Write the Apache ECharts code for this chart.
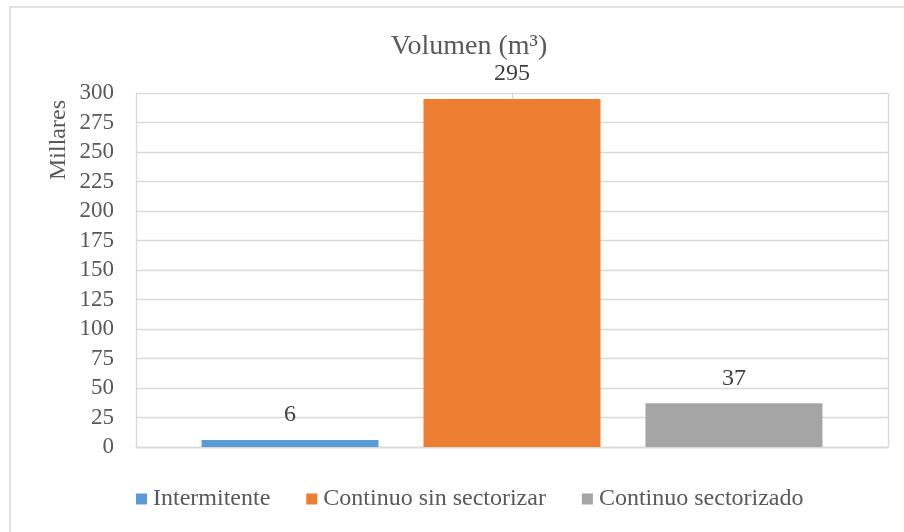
<!DOCTYPE html>
<html>
<head>
<meta charset="utf-8">
<script src="https://cdn.jsdelivr.net/npm/echarts@6/dist/echarts.min.js"></script>
<style>
  html, body { margin: 0; padding: 0; background: #ffffff; }
  #chart { width: 904px; height: 532px; }
</style>
</head>
<body>
<div id="chart"></div>
<script>
// Volume per supply scheme, thousands of m³
const seriesNames = ['Intermitente', 'Continuo sin sectorizar', 'Continuo sectorizado'];
const seriesValues = [6, 295, 37];
const seriesColors = ['#5B9BD5', '#ED7D31', '#A5A5A5'];
const categories = ['Volumen'];
const yMin = 0;
const yMax = 300;
const yStep = 25;

const FONT = 'Liberation Serif';
const TEXT = '#595959';

const chart = echarts.init(document.getElementById('chart'), null, { renderer: 'canvas' });

const series = seriesNames.map((name, i) => {
  const s = {
    name: name,
    type: 'bar',
    data: [seriesValues[i]],
    barWidth: 177,
    barGap: '25.4%',
    itemStyle: { color: seriesColors[i] },
    label: {
      show: true,
      position: 'top',
      distance: 13,
      color: '#404040',
      fontFamily: FONT,
      fontSize: 24
    }
  };
  if (i === 1) {
    // vertical gridline at the category centre, visible above the middle bar
    s.markLine = {
      silent: true,
      symbol: 'none',
      label: { show: false },
      lineStyle: { color: '#D9D9D9', width: 1, type: 'solid' },
      data: [[{ xAxis: 0, yAxis: yMax }, { xAxis: 0, yAxis: seriesValues[i] }]]
    };
  }
  return s;
});

chart.setOption({
  backgroundColor: '#ffffff',
  animation: false,
  title: {
    text: 'Volumen (m³)',
    left: 464,
    top: 28,
    textAlign: 'center',
    textStyle: { fontFamily: FONT, fontSize: 28, fontWeight: 'normal', color: TEXT }
  },
  legend: {
    data: seriesNames,
    left: 131,
    top: 482,
    itemWidth: 11,
    itemHeight: 11,
    itemGap: 36,
    icon: 'rect',
    textStyle: { fontFamily: FONT, fontSize: 24, color: TEXT, padding: [0, 0, 0, 1] }
  },
  grid: { left: 136, right: 16, top: 93, bottom: 85, containLabel: false },
  xAxis: {
    type: 'category',
    data: categories,
    boundaryGap: true,
    axisLine: { show: true, lineStyle: { color: '#D9D9D9', width: 1.3 } },
    axisTick: { show: false },
    axisLabel: { show: false },
    splitLine: { show: true, lineStyle: { color: '#D9D9D9', width: 1.3 } }
  },
  yAxis: {
    type: 'value',
    min: yMin,
    max: yMax,
    interval: yStep,
    axisLine: { show: false },
    axisTick: { show: false },
    axisLabel: { margin: 22, color: TEXT, fontFamily: FONT, fontSize: 23 },
    splitLine: { lineStyle: { color: '#D9D9D9', width: 1.3 } }
  },
  graphic: [
    {
      type: 'rect',
      silent: true,
      shape: { x: 10, y: 7, width: 910, height: 540 },
      style: { fill: 'none', stroke: '#D9D9D9', lineWidth: 1.5 }
    },
    {
      type: 'text',
      silent: true,
      x: 59,
      y: 140,
      rotation: Math.PI / 2,
      style: {
        text: 'Millares',
        fontFamily: FONT,
        fontSize: 24,
        fill: TEXT,
        align: 'center',
        verticalAlign: 'middle'
      }
    }
  ],
  series: series
});
</script>
</body>
</html>
